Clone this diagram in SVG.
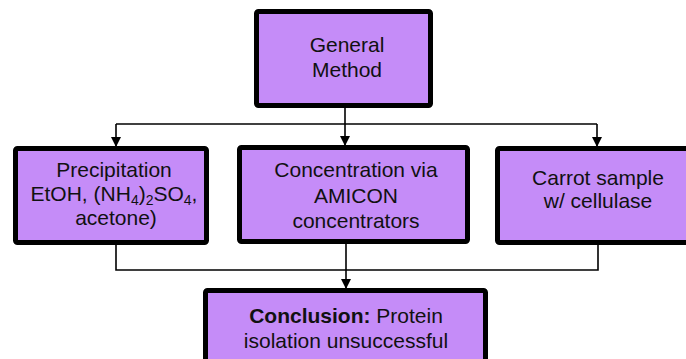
<svg xmlns="http://www.w3.org/2000/svg" width="686" height="359" viewBox="0 0 686 359">
<style>
.box{fill:#C58CF8;stroke:#000;stroke-width:5;}
.t{font-family:"Liberation Sans",Arial,sans-serif;font-size:21px;fill:#111;text-anchor:middle;}
.b{font-weight:bold;}
.sub{font-size:14px;}
.c{stroke:#000;stroke-width:1.6;fill:none;}
</style>
<defs>
<marker id="ah" markerWidth="10" markerHeight="10" refX="9" refY="5" orient="auto" markerUnits="userSpaceOnUse">
<path d="M0,0 L10,5 L0,10 Z" fill="#000"/>
</marker>
</defs>
<rect width="686" height="359" fill="#fff"/>
<g id="connectors">
<path class="c" d="M345,108 V124"/>
<path class="c" d="M116,124 H597"/>
<path class="c" d="M116,124 V146" marker-end="url(#ah)"/>
<path class="c" d="M345,124 V145" marker-end="url(#ah)"/>
<path class="c" d="M597,124 V146" marker-end="url(#ah)"/>
<path class="c" d="M116,245 V270 H598 V245"/>
<path class="c" d="M346,244 V288" marker-end="url(#ah)"/>
</g>
<g id="general">
<rect class="box" x="256.5" y="11.5" width="174" height="94" rx="2"/>
<text class="t" x="347" y="52">General</text>
<text class="t" x="347" y="77">Method</text>
</g>
<g id="precipitation">
<rect class="box" x="15.5" y="148.5" width="191" height="94" rx="2"/>
<text class="t" x="114" y="177">Precipitation</text>
<text class="t" x="114" y="201">EtOH, (NH<tspan class="sub" dy="4">4</tspan><tspan dy="-4">)</tspan><tspan class="sub" dy="4">2</tspan><tspan dy="-4">SO</tspan><tspan class="sub" dy="4">4</tspan><tspan dy="-4">,</tspan></text>
<text class="t" x="116" y="225">acetone)</text>
</g>
<g id="concentration">
<rect class="box" x="239.5" y="147.5" width="228" height="94" rx="2"/>
<text class="t" x="356" y="177">Concentration via</text>
<text class="t" x="356" y="203">AMICON</text>
<text class="t" x="356" y="228">concentrators</text>
</g>
<g id="carrot">
<rect class="box" x="497.5" y="148.5" width="204" height="94" rx="2"/>
<text class="t" x="598" y="185">Carrot sample</text>
<text class="t" x="598" y="208">w/ cellulase</text>
</g>
<g id="conclusion">
<rect class="box" x="205.5" y="290.5" width="280" height="94" rx="2"/>
<text class="t" x="346" y="323"><tspan class="b">Conclusion:</tspan> Protein</text>
<text class="t" x="346" y="348">isolation unsuccessful</text>
</g>
</svg>
